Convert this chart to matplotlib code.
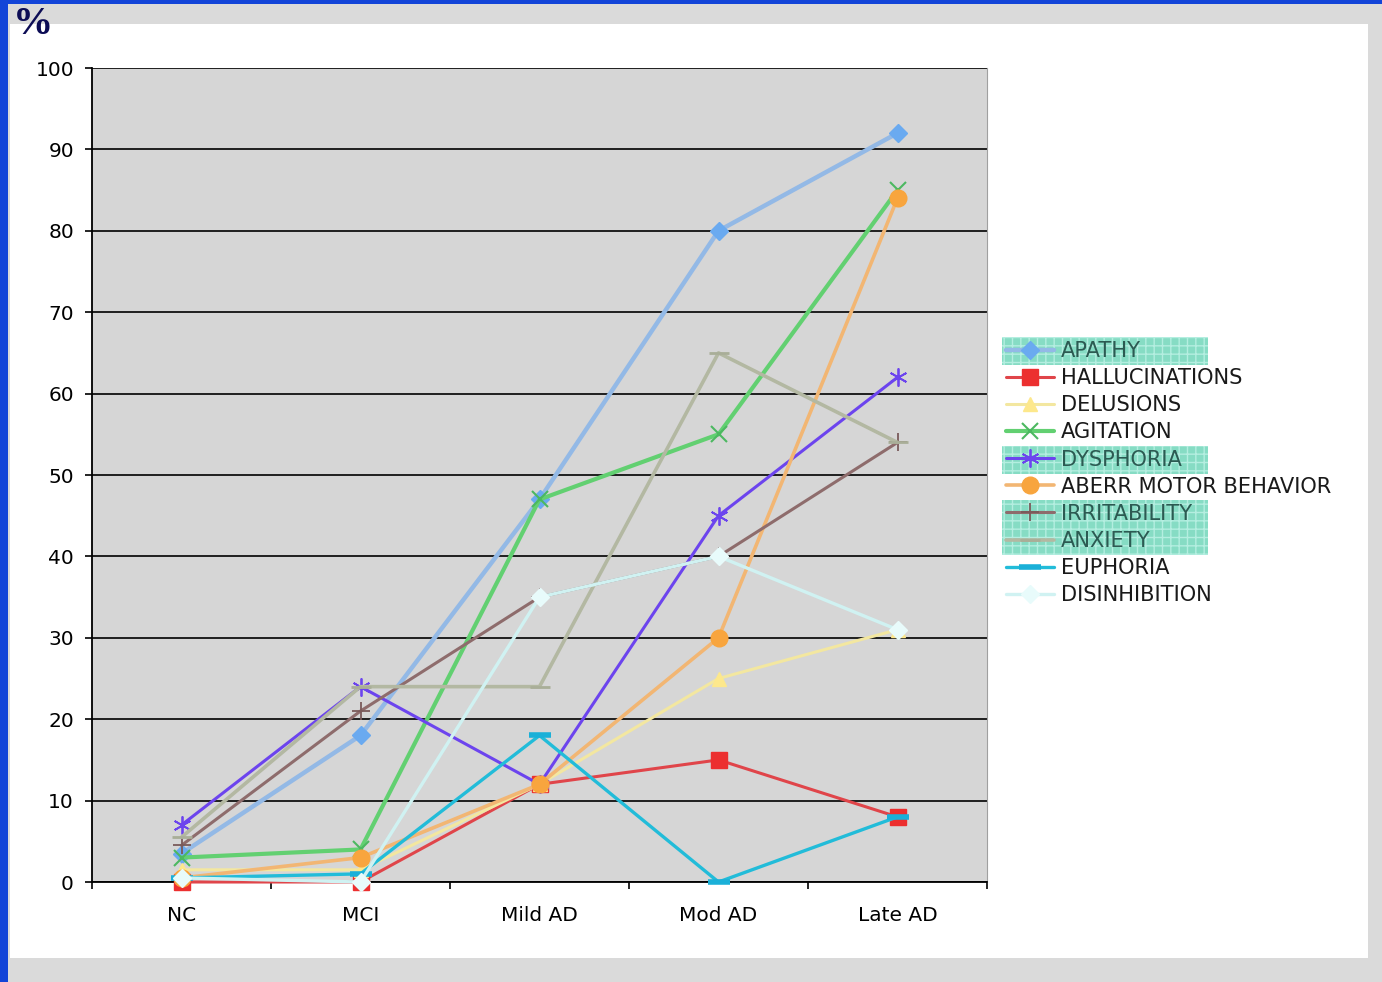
import matplotlib.pyplot as plt
from matplotlib.patches import Rectangle
import numpy as np

# behavioural symptom frequency (%) by diagnostic stage
stages = ["NC", "MCI", "Mild AD", "Mod AD", "Late AD"]

apathy = [3.5, 18, 47, 80, 92]
hallucinations = [0, 0, 12, 15, 8]
delusions = [1.5, 1.5, 12, 25, 31]
agitation = [3, 4, 47, 55, 85]
dysphoria = [7, 24, 12, 45, 62]
aberr_motor = [0.5, 3, 12, 30, 84]
irritability = [4.5, 21, 35, 40, 54]
anxiety = [5.5, 24, 24, 65, 54]
euphoria = [0.5, 1, 18, 0, 8]
disinhibition = [0.5, 0, 35, 40, 31]

names = ["APATHY", "HALLUCINATIONS", "DELUSIONS", "AGITATION", "DYSPHORIA",
         "ABERR MOTOR BEHAVIOR", "IRRITABILITY", "ANXIETY", "EUPHORIA",
         "DISINHIBITION"]
series = [apathy, hallucinations, delusions, agitation, dysphoria,
          aberr_motor, irritability, anxiety, euphoria, disinhibition]
highlighted = ["APATHY", "DYSPHORIA", "IRRITABILITY", "ANXIETY"]

styles = {
    "APATHY": dict(color="#93b9e6", marker="D", mfc="#6aaaf0", mec="#6aaaf0", ms=9, lw=3.2),
    "HALLUCINATIONS": dict(color="#e0454a", marker="s", mfc="#ec2f2f", mec="#ec2f2f", ms=11, lw=2.2),
    "DELUSIONS": dict(color="#f3e7a0", marker="^", mfc="#fde88c", mec="#fde88c", ms=10, lw=2.2),
    "AGITATION": dict(color="#62d071", marker="x", mfc="#62d071", mec="#4cb860", ms=11, lw=3.0, mew=1.5),
    "DYSPHORIA": dict(color="#6c44ee", marker=(6, 2, 0), mfc="#6c44ee", mec="#6c44ee", ms=13, lw=2.2, mew=1.3),
    "ABERR MOTOR BEHAVIOR": dict(color="#f2b673", marker="o", mfc="#f8a53e", mec="#f8a53e", ms=12, lw=2.6),
    "IRRITABILITY": dict(color="#8e6c6c", marker="+", mfc="#7a5a5a", mec="#7a5a5a", ms=13, lw=2.2, mew=1.3),
    "ANXIETY": dict(color="#b3b8a2", marker="_", mfc="#a9ae98", mec="#a9ae98", ms=14, lw=2.6, mew=2),
    "EUPHORIA": dict(color="#22bcd9", marker="_", mfc="#1ab0d8", mec="#1ab0d8", ms=16, lw=2.4, mew=4),
    "DISINHIBITION": dict(color="#d0f2f2", marker="D", mfc="#e8fbfb", mec="#e8fbfb", ms=9, lw=2.4),
}

plt.rcParams['font.family'] = ['DejaVu Sans']

fig = plt.figure(figsize=(13.82, 9.82), dpi=100)
fig.patch.set_facecolor("#dadada")

# slide frame: white panel on grey, blue strip top and left
W, H = 1382, 982
fig.patches.append(Rectangle((10 / W, 24 / H), 1358 / W, 934 / H,
                             transform=fig.transFigure, facecolor="white",
                             edgecolor="none", zorder=-5))
fig.patches.append(Rectangle((0, 0), 8 / W, 1, transform=fig.transFigure,
                             facecolor="#1244d8", edgecolor="none", zorder=-4))
fig.patches.append(Rectangle((0, 1 - 4 / H), 1, 4 / H, transform=fig.transFigure,
                             facecolor="#1244d8", edgecolor="none", zorder=-4))
fig.text(13 / W, 1 - 24 / H, "%", fontsize=29, fontweight="bold",
         family=["Liberation Serif", "DejaVu Serif"], color="#0c0c55",
         va="center", ha="left")

ax = fig.add_axes([92 / W, 1 - 882 / H, (987 - 92) / W, (882 - 68) / H])
ax.set_facecolor("#d6d6d6")

x = np.arange(len(stages))
for name, vals in zip(names, series):
    st = dict(styles[name])
    ax.plot(x, vals, label=name, color=st.pop("color"), lw=st.pop("lw"),
            marker=st.pop("marker"), markerfacecolor=st.pop("mfc"),
            markeredgecolor=st.pop("mec"), markersize=st.pop("ms"),
            markeredgewidth=st.pop("mew", 1.0), solid_capstyle="round",
            clip_on=False, zorder=3)

ax.set_xlim(-0.5, len(stages) - 0.5)
ax.set_ylim(0, 100)
ax.set_yticks(np.arange(0, 101, 10))
ax.set_xticks(x)
ax.set_xticklabels(stages)
ax.set_xticks(np.arange(-0.5, len(stages), 1.0), minor=True)
ax.tick_params(axis="x", which="major", length=0, pad=17, labelsize=14.5,
               labelcolor="black")
ax.tick_params(axis="x", which="minor", length=5, width=1.2, direction="out")
ax.tick_params(axis="y", length=5, width=1.2, pad=8, labelsize=14.5,
               labelcolor="black")
ax.grid(axis="y", color="black", lw=1.2, zorder=1)
ax.set_axisbelow(True)
for side in ["left", "bottom"]:
    ax.spines[side].set_linewidth(1.3)
ax.spines["top"].set_visible(False)
ax.spines["right"].set_color("#a0a0a0")

leg = ax.legend(loc="upper left", bbox_to_anchor=(1006 / W, 1 - 341 / H),
                bbox_transform=fig.transFigure, frameon=False, fontsize=15.1,
                handlelength=2.3, handletextpad=0.3, labelspacing=0.34,
                borderpad=0, borderaxespad=0)
for t in leg.get_texts():
    t.set_color("#2c5a52" if t.get_text() in highlighted else "#1a1a1a")

# teal highlight behind selected legend rows
fig.canvas.draw()
inv = fig.transFigure.inverted()
for t in leg.get_texts():
    if t.get_text() not in highlighted:
        continue
    bb = t.get_window_extent()
    (x0, y0), (x1, y1) = inv.transform([(1002, bb.y0 - 4), (1208, bb.y1 + 4)])
    fig.patches.append(Rectangle((x0, y0), x1 - x0, y1 - y0,
                                 transform=fig.transFigure, facecolor="#86dcc4",
                                 edgecolor="#b4eee0", hatch="++", lw=0,
                                 zorder=-1))

fig.savefig("out.png", dpi=100)
